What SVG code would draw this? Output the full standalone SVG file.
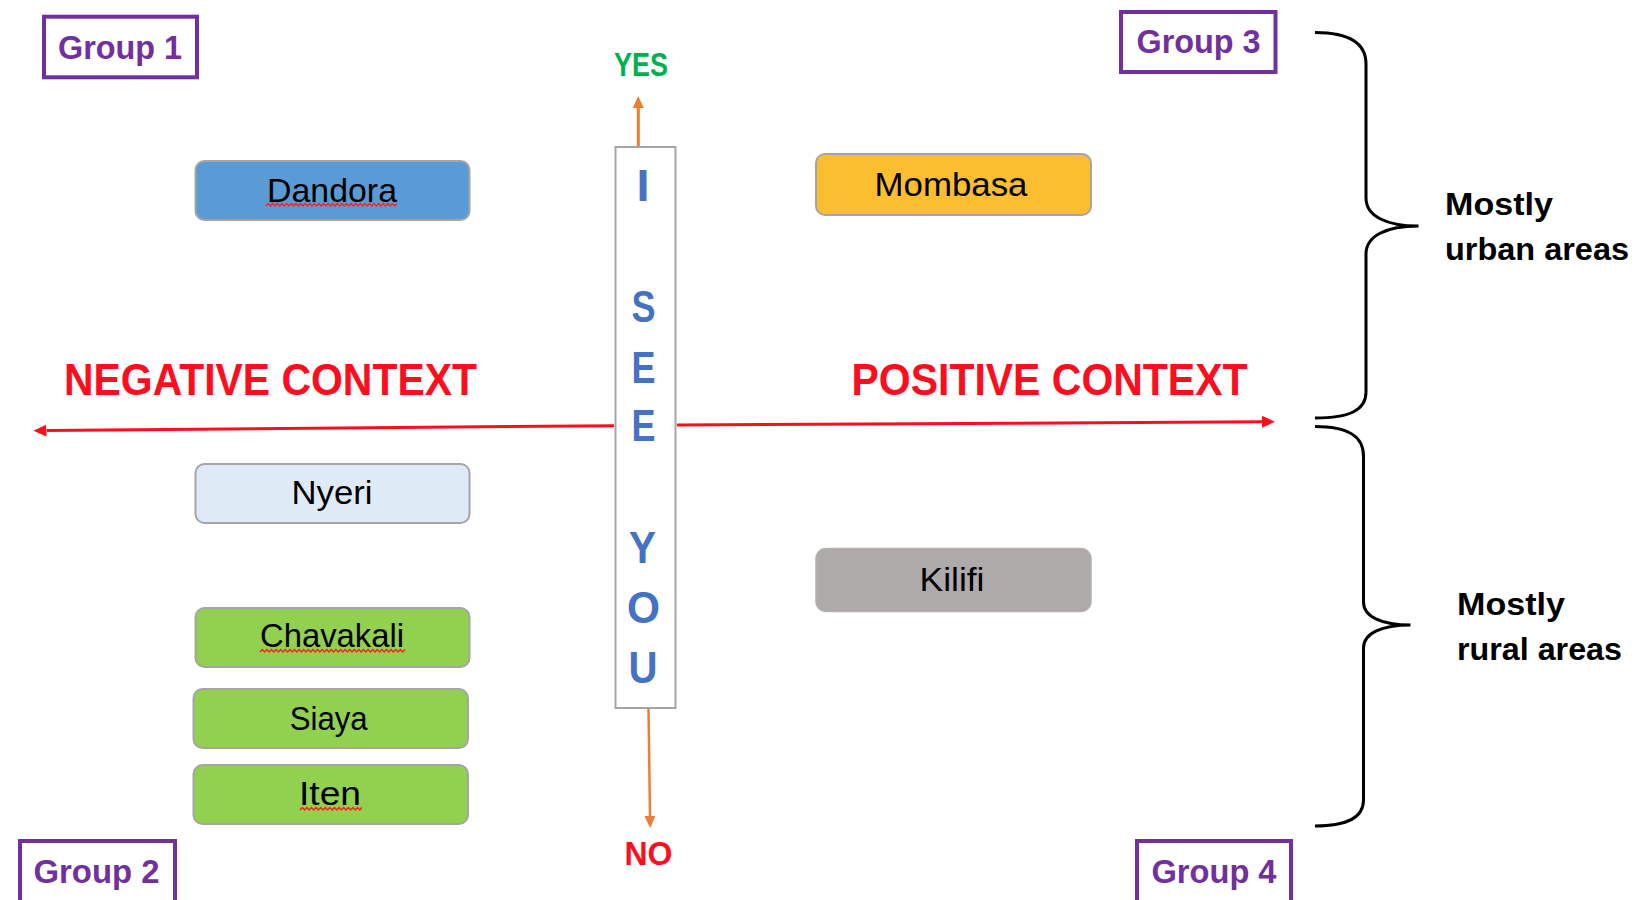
<svg xmlns="http://www.w3.org/2000/svg" width="1637" height="900" viewBox="0 0 1637 900">
<style>
.grp{fill:#fff;stroke:#7030A0;stroke-width:4}
.grpt{font-family:"Liberation Sans",Arial,sans-serif;font-weight:bold;font-size:33px;fill:#7030A0}
.box{stroke:#A5A5A5;stroke-width:2}
.bt{font-family:"Liberation Sans",Arial,sans-serif;font-size:33px;fill:#000;text-anchor:middle}
.ctx{font-family:"Liberation Sans",Arial,sans-serif;font-weight:bold;font-size:44px;fill:#FF0D1D}
.let{font-family:"Liberation Sans",Arial,sans-serif;font-weight:bold;font-size:44px;fill:#4472C4;text-anchor:middle}
.area{font-family:"Liberation Sans",Arial,sans-serif;font-weight:bold;font-size:31px;fill:#000}
.sq{fill:none;stroke:#FF2020;stroke-width:1.5}
.brace{fill:none;stroke:#000;stroke-width:3}
</style>
<defs>
<marker id="redHead" markerUnits="userSpaceOnUse" viewBox="0 -6 13 12" markerWidth="13" markerHeight="12" refX="0" refY="0" orient="auto">
<path d="M0,-6 L13,0 L0,6 z" fill="#FF0D1D"/>
</marker>
<marker id="orangeHead" markerUnits="userSpaceOnUse" viewBox="0 -5.5 12 11" markerWidth="12" markerHeight="11" refX="0" refY="0" orient="auto">
<path d="M0,-5.5 L12,0 L0,5.5 z" fill="#ED7D31"/>
</marker>
</defs>

<g id="connectors">
<line x1="614" y1="425.7" x2="46.5" y2="430.6" stroke="#FF0D1D" stroke-width="3" marker-end="url(#redHead)"/>
<line x1="677" y1="425" x2="1262" y2="421.8" stroke="#FF0D1D" stroke-width="3" marker-end="url(#redHead)"/>
<line x1="638.3" y1="146" x2="638.3" y2="108" stroke="#ED7D31" stroke-width="3" marker-end="url(#orangeHead)"/>
<line x1="648.5" y1="709" x2="650" y2="816" stroke="#ED7D31" stroke-width="2.5" marker-end="url(#orangeHead)"/>
</g>

<g id="group1"><rect class="grp" x="44" y="16.7" width="153" height="60.6"/><text class="grpt" x="58" y="59.3" textLength="124" lengthAdjust="spacingAndGlyphs">Group 1</text></g>
<g id="group2"><rect class="grp" x="20" y="841" width="155" height="80"/><text class="grpt" x="33.5" y="883" textLength="126" lengthAdjust="spacingAndGlyphs">Group 2</text></g>
<g id="group3"><rect class="grp" x="1121" y="12" width="154.5" height="60"/><text class="grpt" x="1136.5" y="53" textLength="124" lengthAdjust="spacingAndGlyphs">Group 3</text></g>
<g id="group4"><rect class="grp" x="1137" y="841" width="154" height="80"/><text class="grpt" x="1151.5" y="883" textLength="125" lengthAdjust="spacingAndGlyphs">Group 4</text></g>

<g id="yes"><text x="614" y="76" textLength="54" lengthAdjust="spacingAndGlyphs" style="font-family:'Liberation Sans',Arial,sans-serif;font-weight:bold;font-size:33px;fill:#00B050">YES</text></g>
<g id="no"><text x="624.5" y="865" textLength="48" lengthAdjust="spacingAndGlyphs" style="font-family:'Liberation Sans',Arial,sans-serif;font-weight:bold;font-size:33px;fill:#FF0D1D">NO</text></g>

<g id="iseeyou">
<rect x="615.5" y="147" width="60" height="561" fill="#fff" stroke="#A5A5A5" stroke-width="2"/>
<text class="let" x="643" y="201" textLength="13" lengthAdjust="spacingAndGlyphs">I</text>
<text class="let" x="643.5" y="322" textLength="24" lengthAdjust="spacingAndGlyphs">S</text>
<text class="let" x="643.5" y="383" textLength="24" lengthAdjust="spacingAndGlyphs">E</text>
<text class="let" x="643.5" y="441" textLength="24" lengthAdjust="spacingAndGlyphs">E</text>
<text class="let" x="642.5" y="563" textLength="27" lengthAdjust="spacingAndGlyphs">Y</text>
<text class="let" x="643.5" y="623" textLength="33" lengthAdjust="spacingAndGlyphs">O</text>
<text class="let" x="643" y="683" textLength="29" lengthAdjust="spacingAndGlyphs">U</text>
</g>

<g id="negative"><text class="ctx" x="64" y="395" textLength="413" lengthAdjust="spacingAndGlyphs">NEGATIVE CONTEXT</text></g>
<g id="positive"><text class="ctx" x="851.5" y="395" textLength="396" lengthAdjust="spacingAndGlyphs">POSITIVE CONTEXT</text></g>

<g id="dandora">
<rect class="box" x="195.5" y="161" width="274" height="59" rx="9" fill="#5B9BD5"/>
<text class="bt" x="332" y="201.5" textLength="130" lengthAdjust="spacingAndGlyphs">Dandora</text>
<polyline class="sq" points="266,206 268.3,203.5 270.6,206 272.9,203.5 275.2,206 277.5,203.5 279.8,206 282.1,203.5 284.4,206 286.7,203.5 289,206 291.3,203.5 293.6,206 295.9,203.5 298.2,206 300.5,203.5 302.8,206 305.1,203.5 307.4,206 309.7,203.5 312,206 314.3,203.5 316.6,206 318.9,203.5 321.2,206 323.5,203.5 325.8,206 328.1,203.5 330.4,206 332.7,203.5 335,206 337.3,203.5 339.6,206 341.9,203.5 344.2,206 346.5,203.5 348.8,206 351.1,203.5 353.4,206 355.7,203.5 358,206 360.3,203.5 362.6,206 364.9,203.5 367.2,206 369.5,203.5 371.8,206 374.1,203.5 376.4,206 378.7,203.5 381,206 383.3,203.5 385.6,206 387.9,203.5 390.2,206 392.5,203.5 394.8,206 397,203.5"/>
</g>

<g id="mombasa">
<rect class="box" x="816" y="154" width="275" height="61" rx="9" fill="#FBBE30"/>
<text class="bt" x="951" y="196" textLength="153" lengthAdjust="spacingAndGlyphs">Mombasa</text>
</g>

<g id="nyeri">
<rect class="box" x="195.5" y="464" width="274" height="59" rx="9" fill="#DEEBF7"/>
<text class="bt" x="332" y="504" textLength="81" lengthAdjust="spacingAndGlyphs">Nyeri</text>
</g>

<g id="chavakali">
<rect class="box" x="195.5" y="608" width="274" height="59" rx="9" fill="#92D050"/>
<text class="bt" x="332" y="647" textLength="144" lengthAdjust="spacingAndGlyphs">Chavakali</text>
<polyline class="sq" points="260,652 262.3,649.5 264.6,652 266.9,649.5 269.2,652 271.5,649.5 273.8,652 276.1,649.5 278.4,652 280.7,649.5 283,652 285.3,649.5 287.6,652 289.9,649.5 292.2,652 294.5,649.5 296.8,652 299.1,649.5 301.4,652 303.7,649.5 306,652 308.3,649.5 310.6,652 312.9,649.5 315.2,652 317.5,649.5 319.8,652 322.1,649.5 324.4,652 326.7,649.5 329,652 331.3,649.5 333.6,652 335.9,649.5 338.2,652 340.5,649.5 342.8,652 345.1,649.5 347.4,652 349.7,649.5 352,652 354.3,649.5 356.6,652 358.9,649.5 361.2,652 363.5,649.5 365.8,652 368.1,649.5 370.4,652 372.7,649.5 375,652 377.3,649.5 379.6,652 381.9,649.5 384.2,652 386.5,649.5 388.8,652 391.1,649.5 393.4,652 395.7,649.5 398,652 400.3,649.5 402.6,652 405,649.5"/>
</g>

<g id="siaya">
<rect class="box" x="193.5" y="689" width="274.5" height="59" rx="9" fill="#92D050"/>
<text class="bt" x="328.7" y="730" textLength="78" lengthAdjust="spacingAndGlyphs">Siaya</text>
</g>

<g id="iten">
<rect class="box" x="193.5" y="765" width="274.5" height="59" rx="9" fill="#92D050"/>
<text class="bt" x="330" y="805" textLength="62" lengthAdjust="spacingAndGlyphs">Iten</text>
<polyline class="sq" points="300,810 302.3,807.5 304.6,810 306.9,807.5 309.2,810 311.5,807.5 313.8,810 316.1,807.5 318.4,810 320.7,807.5 323,810 325.3,807.5 327.6,810 329.9,807.5 332.2,810 334.5,807.5 336.8,810 339.1,807.5 341.4,810 343.7,807.5 346,810 348.3,807.5 350.6,810 352.9,807.5 355.2,810 357.5,807.5 359.8,810 362,807.5"/>
</g>

<g id="kilifi">
<rect x="816" y="548.5" width="275" height="63" rx="10" fill="#AEAAAA" stroke="#B4B0B0" stroke-width="1.5"/>
<text class="bt" x="952" y="590.7" textLength="65" lengthAdjust="spacingAndGlyphs">Kilifi</text>
</g>

<g id="urban">
<path class="brace" d="M1315,32.5 C1350,32.5 1366,44 1366,64 L1366,198 C1366,216 1386,226 1418.5,226 C1386,226 1366,236 1366,254 L1366,392 C1366,410 1350,418 1315,418"/>
<text class="area" x="1445" y="215" textLength="108" lengthAdjust="spacingAndGlyphs">Mostly</text>
<text class="area" x="1445" y="260" textLength="184" lengthAdjust="spacingAndGlyphs">urban areas</text>
</g>

<g id="rural">
<path class="brace" d="M1315,426.5 C1348,426.5 1363.5,436 1363.5,456 L1363.5,602 C1363.5,617 1382,625 1410.5,625 C1382,625 1363.5,633 1363.5,648 L1363.5,800 C1363.5,817 1348,826 1315,826"/>
<text class="area" x="1457" y="615" textLength="108" lengthAdjust="spacingAndGlyphs">Mostly</text>
<text class="area" x="1457" y="660" textLength="165" lengthAdjust="spacingAndGlyphs">rural areas</text>
</g>
</svg>
